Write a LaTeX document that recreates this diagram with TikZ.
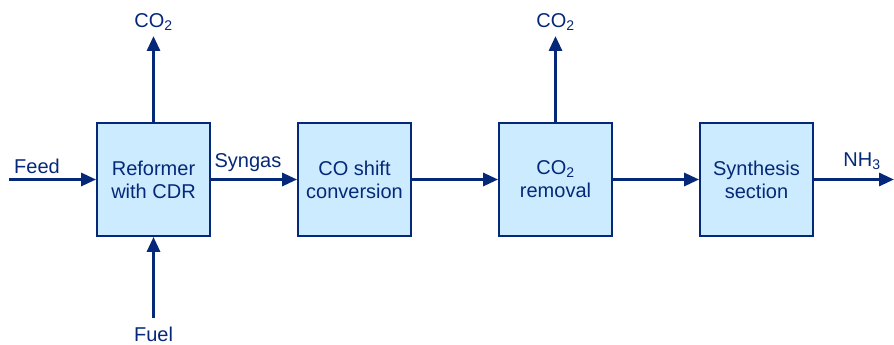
\documentclass[tikz,border=0pt]{standalone}
\usepackage{fontspec}
\setmainfont{Liberation Sans}
\usetikzlibrary{arrows.meta}
\definecolor{dblue}{RGB}{5,40,120}
\definecolor{lblue}{RGB}{204,235,255}
\begin{document}
\begin{tikzpicture}[x=1pt,y=-1pt,
  box/.style={draw=dblue,fill=lblue,line width=1.8pt,minimum width=113pt,minimum height=113pt,inner sep=0pt,align=center,text=dblue,font=\fontsize{20}{23}\selectfont},
  lbl/.style={text=dblue,font=\fontsize{20}{23}\selectfont,inner sep=0pt},
  flow/.style={draw=dblue,line width=3pt,-{Triangle[length=15pt,width=13pt]}}]
\useasboundingbox (0,0) rectangle (894,345);
\node[box] (ref) at (153.5,179.5) {Reformer\\with CDR};
\node[box] (shift) at (354.5,179.5) {CO shift\\conversion};
\node[box] (rem) at (555.5,179.5) {CO\textsubscript{2}\\removal};
\node[box] (syn) at (756.5,179.5) {Synthesis\\section};
\coordinate (feed) at (9,179.5);
\coordinate (co2a) at (153.5,36);
\coordinate (co2b) at (555.5,36);
\coordinate (fuel) at (153.5,318);
\coordinate (out) at (894,179.5);
\node[lbl] (tfeed) at (37,166) {Feed};
\node[lbl] (tsyn) at (248,163) {Syngas};
\node[lbl] (tnh3) at (862,161) {NH\textsubscript{3}};
\node[lbl] (tco2a) at (153.5,22) {CO\textsubscript{2}};
\node[lbl] (tco2b) at (555.5,22) {CO\textsubscript{2}};
\node[lbl] (tfuel) at (153.5,334) {Fuel};
\draw[flow] (feed) -- (ref.west);
\draw[flow] (ref.east) -- (shift.west);
\draw[flow] (shift.east) -- (rem.west);
\draw[flow] (rem.east) -- (syn.west);
\draw[flow] (syn.east) -- (out);
\draw[flow] (ref.north) -- (co2a);
\draw[flow] (rem.north) -- (co2b);
\draw[flow] (fuel) -- (ref.south);
\end{tikzpicture}
\end{document}
